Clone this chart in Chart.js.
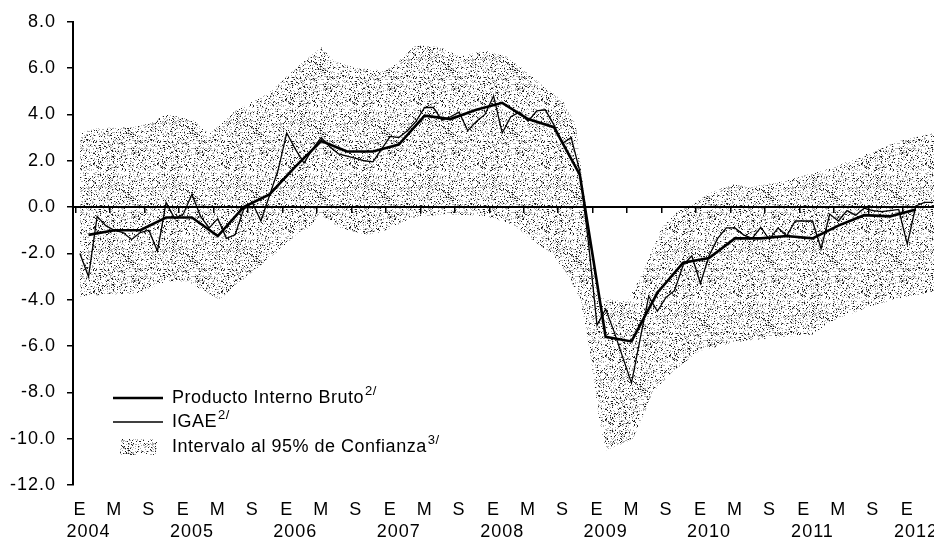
<!DOCTYPE html>
<html>
<head>
<meta charset="utf-8">
<script src="https://cdn.jsdelivr.net/npm/chart.js@4.4.1/dist/chart.umd.min.js"></script>
<style>
  html, body { margin: 0; padding: 0; background: #fff; overflow: hidden; }
</style>
</head>
<body>
<canvas id="canvas" width="934" height="544"></canvas>
<script>
// monthly IGAE, annual % change, Jan 2004 = index 0
const igae = [
  -2.0, -3.0, -0.4, -0.8, -1.0, -1.1, -1.4, -1.1, -1.0, -1.9, 0.2, -0.5,
  -0.3, 0.55, -0.4, -0.9, -0.5, -1.35, -1.2, -0.1, 0.2, -0.6, 0.5, 1.6,
  3.2, 2.5, 1.9, 2.5, 3.0, 2.6, 2.3, 2.2, 2.1, 2.0, 1.95, 2.5,
  3.05, 3.0, 3.3, 3.7, 4.3, 4.3, 3.75, 3.9, 4.1, 3.3, 3.7, 4.0,
  4.8, 3.2, 3.9, 4.1, 3.7, 4.15, 4.2, 3.55, 2.75, 3.0, 1.55, -1.5,
  -5.1, -4.4, -5.4, -6.5, -7.6, -5.7, -3.85, -4.5, -3.9, -3.6, -2.5, -2.1,
  -3.3, -2.1, -1.35, -0.9, -0.9, -1.2, -1.35, -0.87, -1.4, -0.9, -1.25, -0.6,
  -0.6, -0.6, -1.8, -0.3, -0.6, -0.15, -0.35, -0.05, -0.15, -0.2, -0.15, -0.1,
  -1.6, 0.05, 0.2, 0.2
];

// quarterly GDP, plotted on the middle month of each quarter
const pib = [
  -1.2, -1.0, -1.0, -0.45, -0.45, -1.25, 0.0, 0.55,
  1.75, 2.85, 2.4, 2.4, 2.7, 3.95, 3.8, 4.2,
  4.5, 3.8, 3.45, 1.4, -5.6, -5.8, -3.7, -2.4,
  -2.2, -1.35, -1.35, -1.25, -1.35, -0.8, -0.35, -0.4,
  -0.1
];

// 95% confidence band edges (month index, value)
const bandUpperMonths = [0, 2, 6, 8, 10, 13, 15, 18, 19.5, 22, 24.5, 26.5, 28, 29.5, 32, 35.5, 37, 39, 42, 44, 47, 49.5, 52, 54, 56, 57.5, 58.2, 58.6, 60.3, 63.5, 65.2, 67.5, 69.3, 71.3, 73, 75.8, 77.7, 82, 87.4, 91.3, 95, 99, 100];
const bandUpper = [3.2, 3.4, 3.45, 3.6, 4.0, 3.8, 3.15, 4.15, 4.45, 4.95, 5.8, 6.45, 6.9, 6.3, 6.0, 5.9, 6.3, 7.0, 6.9, 6.5, 6.75, 6.5, 5.8, 5.15, 4.6, 3.6, 1.5, 0.3, -3.9, -4.1, -2.9, -0.9, -0.2, 0.15, 0.6, 1.0, 0.85, 1.15, 1.7, 2.3, 2.85, 3.2, 3.3];
const bandLowerMonths = [0, 7, 10, 12.4, 16.2, 17.7, 21, 23.5, 25.5, 26.7, 27.8, 30.2, 33.3, 35.2, 38.6, 42.6, 47.2, 50.2, 52.6, 54.9, 56.5, 58, 58.8, 59.5, 60.3, 61.1, 64.2, 66.5, 68.8, 71.9, 76.6, 80.4, 85, 87.4, 91.3, 95, 99, 100];
const bandLower = [-3.85, -3.7, -3.2, -3.2, -4.0, -3.5, -2.5, -1.75, -1.05, -0.9, -0.3, -0.9, -1.2, -1.05, -0.45, -0.3, -0.4, -0.75, -1.45, -2.05, -2.9, -3.9, -5.4, -7.1, -9.3, -10.5, -10.0, -8.0, -7.1, -6.2, -5.8, -5.65, -5.5, -4.9, -4.35, -3.95, -3.65, -3.6];

const seriesNames = ['Producto Interno Bruto', 'IGAE', 'Intervalo al 95% de Confianza'];
const seriesNotes = ['2/', '2/', '3/'];
const monthLetters = ['E', 'M', 'S'];
const years = [2004, 2005, 2006, 2007, 2008, 2009, 2010, 2011, 2012];
const yTicks = [-12, -10, -8, -6, -4, -2, 0, 2, 4, 6, 8];

const X_MIN = -0.8, X_MAX = 99.1;
const FONT = "'Liberation Sans', Arial, sans-serif";

const letterTicks = [];
for (let m = 0; m <= 96; m += 4) letterTicks.push(m);
const yearTicks = years.map((y, k) => 12 * k + 1);
const zeroTicks = [];
for (let m = 0; m <= 100; m += 4) zeroTicks.push(m - 0.5);

var ctx = document.getElementById('canvas').getContext('2d');

// dotted grey texture like the printed band
function makeStipple() {
    var c = document.createElement('canvas');
    c.width = 64; c.height = 64;
    var g = c.getContext('2d');
    var img = g.createImageData(64, 64);
    for (var y = 0; y < 64; y++) {
        for (var x = 0; x < 64; x++) {
            var h = Math.sin(x * 12.9898 + y * 78.233) * 43758.5453;
            h = h - Math.floor(h);
            var v = h < 0.09 ? 30 : (h < 0.30 ? 175 : 255);
            var p = (y * 64 + x) * 4;
            img.data[p] = img.data[p + 1] = img.data[p + 2] = v;
            img.data[p + 3] = 255;
        }
    }
    g.putImageData(img, 0, 0);
    return ctx.createPattern(c, 'repeat');
}
var stipple = makeStipple();

// the scanned text is a little wider than plain Arial
const wideText = {
    id: 'wideText',
    beforeDraw(chart) { chart.ctx.letterSpacing = '1px'; }
};

// legend drawn inside the plot, lower left
const boxLegend = {
    id: 'boxLegend',
    afterDraw(chart) {
        var c = chart.ctx, a = chart.chartArea;
        var x1 = a.left + 40, x2 = a.left + 90, tx = a.left + 99;
        var rows = [a.bottom - 87, a.bottom - 63, a.bottom - 38];
        c.save();
        c.strokeStyle = '#000';
        c.lineWidth = 2.6;
        c.beginPath(); c.moveTo(x1, rows[0]); c.lineTo(x2, rows[0]); c.stroke();
        c.lineWidth = 1.3;
        c.beginPath(); c.moveTo(x1, rows[1]); c.lineTo(x2, rows[1]); c.stroke();
        c.fillStyle = stipple;
        c.fillRect(x1 + 7, rows[2] - 8, 37, 16);
        c.fillStyle = '#000';
        c.textBaseline = 'middle';
        c.letterSpacing = '0.5px';
        for (var i = 0; i < 3; i++) {
            c.font = '18px ' + FONT;
            c.fillText(seriesNames[i], tx, rows[i]);
            var w = c.measureText(seriesNames[i]).width;
            c.font = '13px ' + FONT;
            c.fillText(seriesNotes[i], tx + w + 1, rows[i] - 7);
        }
        c.restore();
    }
};

try {
    var myChart = new Chart(ctx, {
        type: 'line',
        data: {
            datasets: [{
                label: seriesNames[1],
                data: igae.map((v, i) => ({x: i, y: v})),
                borderColor: '#000',
                borderWidth: 1.3,
                pointRadius: 0,
                fill: false
            }, {
                label: seriesNames[0],
                data: pib.map((v, q) => ({x: 3 * q + 1, y: v})),
                borderColor: '#000',
                borderWidth: 2.6,
                pointRadius: 0,
                fill: false
            }, {
                label: seriesNames[2],
                data: bandUpper.map((v, k) => ({x: bandUpperMonths[k], y: v})),
                borderColor: 'transparent',
                borderWidth: 0,
                pointRadius: 0,
                backgroundColor: stipple,
                fill: '+1'
            }, {
                label: 'lower',
                data: bandLower.map((v, k) => ({x: bandLowerMonths[k], y: v})),
                borderColor: 'transparent',
                borderWidth: 0,
                pointRadius: 0,
                fill: false
            }]
        },
        options: {
            responsive: false,
            animation: false,
            events: [],
            layout: {padding: {top: 20, right: 0, bottom: 0, left: 0}},
            font: {family: FONT, size: 18},
            plugins: {legend: {display: false}, tooltip: {enabled: false}},
            scales: {
                x: {
                    type: 'linear', axis: 'x', position: 'bottom', weight: 0,
                    min: X_MIN, max: X_MAX,
                    grid: {display: false, drawTicks: false},
                    border: {display: false},
                    ticks: {padding: 14, autoSkip: false, maxRotation: 0, color: '#000',
                        font: {family: FONT, size: 18},
                        callback: v => monthLetters[(v / 4) % 3]},
                    afterBuildTicks: s => { s.ticks = letterTicks.map(v => ({value: v})); },
                    afterFit: s => { s.paddingLeft = 0; s.paddingRight = 0; s.height = 36; }
                },
                xYear: {
                    type: 'linear', axis: 'x', position: 'bottom', weight: 1,
                    min: X_MIN, max: X_MAX,
                    grid: {display: false, drawTicks: false},
                    border: {display: false},
                    ticks: {padding: 0, autoSkip: false, maxRotation: 0, color: '#000',
                        font: {family: FONT, size: 18},
                        callback: v => String(years[(v - 1) / 12])},
                    afterBuildTicks: s => { s.ticks = yearTicks.map(v => ({value: v})); },
                    afterFit: s => { s.paddingLeft = 0; s.paddingRight = 0; s.height = 23; }
                },
                xZero: {
                    type: 'linear', axis: 'x', position: {y: 0},
                    min: X_MIN, max: X_MAX,
                    grid: {drawOnChartArea: false, drawTicks: true, tickLength: 5, color: '#000', lineWidth: 1.5, z: 1},
                    border: {display: true, color: '#000', width: 2, z: 1},
                    ticks: {display: false},
                    afterBuildTicks: s => { s.ticks = zeroTicks.map(v => ({value: v})); }
                },
                y: {
                    min: -12, max: 8,
                    grid: {drawOnChartArea: false, tickLength: 6, color: '#000', lineWidth: 1.5, z: 1},
                    border: {display: true, color: '#000', width: 2, z: 1},
                    ticks: {padding: 11, color: '#000', font: {family: FONT, size: 18},
                        callback: v => v.toFixed(1)},
                    afterBuildTicks: s => { s.ticks = yTicks.map(v => ({value: v})); },
                    afterFit: s => { s.width = 73; }
                }
            }
        },
        plugins: [wideText, boxLegend]
    });
} catch (e) {
    console.log(e.message);
}
</script>
</body>
</html>
